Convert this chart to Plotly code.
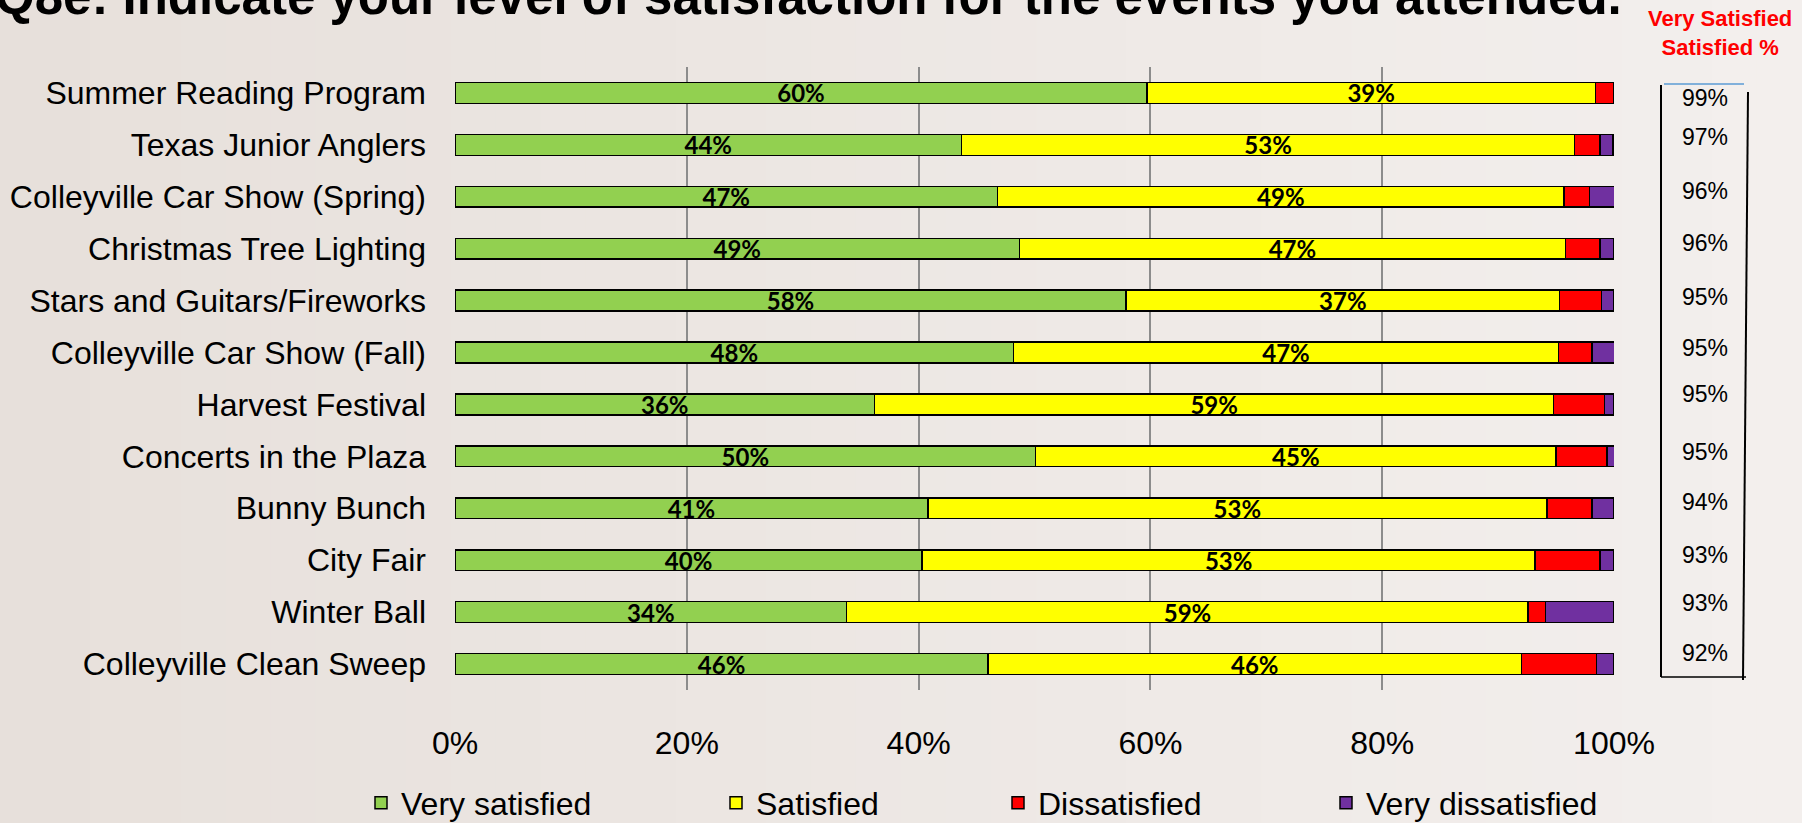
import plotly.graph_objects as go

# ---------------- data ----------------
categories = [
    "Summer Reading Program", "Texas Junior Anglers", "Colleyville Car Show (Spring)",
    "Christmas Tree Lighting", "Stars and Guitars/Fireworks", "Colleyville Car Show (Fall)",
    "Harvest Festival", "Concerts in the Plaza", "Bunny Bunch", "City Fair",
    "Winter Ball", "Colleyville Clean Sweep",
]
very_satisfied = [59.7, 43.7, 46.8, 48.7, 57.9, 48.2, 36.2, 50.1, 40.8, 40.3, 33.8, 46.0]
satisfied = [38.7, 52.9, 48.9, 47.1, 37.4, 47.0, 58.6, 44.9, 53.4, 52.9, 58.8, 46.0]
dissatisfied = [1.6, 2.2, 2.2, 3.0, 3.6, 2.9, 4.4, 4.4, 3.9, 5.6, 1.5, 6.5]
very_dissatisfied = [0.0, 1.1, 2.2, 1.2, 1.1, 2.0, 0.8, 0.8, 1.9, 1.2, 5.9, 1.5]
combined_pct = [99, 97, 96, 96, 95, 95, 95, 95, 94, 93, 93, 92]
x_tick_values = [0, 20, 40, 60, 80, 100]
x_tick_labels = ["0%", "20%", "40%", "60%", "80%", "100%"]

series_names = ["Very satisfied", "Satisfied", "Dissatisfied", "Very dissatisfied"]
series_colors = ["#92D050", "#FFFF00", "#FF0000", "#7030A0"]

# ---------------- geometry helpers (pixel -> paper) ----------------
W, H = 1802, 823
L, R, T, B = 455, 188, 67, 133
PW, PH = W - L - R, H - T - B


def px(x):
    return (x - L) / PW


def py(y):
    return (H - B - y) / PH


FONT = "Liberation Sans, Arial, sans-serif"

fig = go.Figure()

series_values = [very_satisfied, satisfied, dissatisfied, very_dissatisfied]
legend_ids = ["legend", "legend2", "legend3", "legend4"]
for i, (name, vals, col) in enumerate(zip(series_names, series_values, series_colors)):
    labelled = i < 2
    fig.add_trace(go.Bar(
        y=categories, x=vals, name=name, orientation="h",
        marker=dict(color=col, line=dict(color="#000000", width=1.5)),
        width=0.4,
        texttemplate="%{x:.0f}%" if labelled else None,
        textposition="inside" if labelled else "none",
        insidetextanchor="middle",
        constraintext="none",
        textangle=0,
        textfont=dict(family="Lato, Carlito, sans-serif", size=24, color="#000000", weight="bold"),
        legend=legend_ids[i],
        hoverinfo="skip",
    ))

# background gradient strips (decorative)
n_strips = 40
c0 = (231, 224, 219)
c1 = (243, 239, 237)
shapes = []
for k in range(n_strips):
    t = k / (n_strips - 1)
    c = tuple(int(round(a + (b - a) * t)) for a, b in zip(c0, c1))
    x0 = W * k / n_strips
    x1 = W * (k + 1) / n_strips + 1
    shapes.append(dict(type="rect", xref="paper", yref="paper",
                       x0=px(x0), x1=px(x1), y0=py(H), y1=py(0),
                       fillcolor="rgb(%d,%d,%d)" % c, line=dict(width=0), layer="below"))

# box around the combined % column
box_lines = [
    ((1661, 85), (1661, 677), "#000000", 2),
    ((1748, 92), (1743, 680), "#000000", 2),
    ((1661, 677), (1746, 677), "#000000", 1.5),
    ((1664, 84), (1744, 84), "#5B9BD5", 1.5),
]
for (xa, ya), (xb, yb), col, w in box_lines:
    shapes.append(dict(type="line", xref="paper", yref="paper",
                       x0=px(xa), y0=py(ya), x1=px(xb), y1=py(yb),
                       line=dict(color=col, width=w)))

annotations = [
    dict(text="<b>Q8e: Indicate your level of satisfaction for the events you attended.</b>",
         xref="paper", yref="paper", x=px(-7), y=py(-3.5), xanchor="left", yanchor="middle",
         showarrow=False, font=dict(family=FONT, size=51, color="#000000")),
    dict(text="<b>Very Satisfied<br>Satisfied %</b>",
         xref="paper", yref="paper", x=px(1720), y=py(33), xanchor="center", yanchor="middle",
         showarrow=False, font=dict(family=FONT, size=22, color="#FF0000")),
]
# nudges so the column text sits as in the source slide
row_nudge = [-5, 8, 6, 6, 4, 5, 10, 4, 6, 5, 9, 11]
for cat, v, nud in zip(categories, combined_pct, row_nudge):
    annotations.append(dict(text=f"{v}%", xref="paper", yref="y", x=px(1705), y=cat,
                            xanchor="center", yanchor="middle", yshift=nud, showarrow=False,
                            font=dict(family=FONT, size=23, color="#000000")))

legend_starts = [361, 716, 998, 1326]
layout_legends = {}
for lid, lx in zip(legend_ids, legend_starts):
    layout_legends[lid] = dict(
        x=px(lx), y=py(803), xanchor="left", yanchor="middle", orientation="h",
        bgcolor="rgba(0,0,0,0)", borderwidth=0,
        font=dict(family=FONT, size=32, color="#000000"),
    )

fig.update_layout(
    width=W, height=H,
    margin=dict(l=L, r=R, t=T, b=B, pad=0, autoexpand=False),
    paper_bgcolor="#EDE7E3",
    plot_bgcolor="rgba(0,0,0,0)",
    barmode="stack",
    bargap=0.6,
    showlegend=True,
    shapes=shapes,
    annotations=annotations,
    xaxis=dict(range=[0, 100], tickvals=x_tick_values, ticktext=x_tick_labels,
               showgrid=True, gridcolor="#8C8C8C", gridwidth=1.5, zeroline=False,
               showline=False, ticks="", ticklabelstandoff=31,
               tickfont=dict(family=FONT, size=32, color="#000000"), fixedrange=True),
    yaxis=dict(autorange="reversed", showgrid=False, zeroline=False, showline=False,
               ticks="", ticklabelstandoff=28,
               tickfont=dict(family=FONT, size=32, color="#000000"), fixedrange=True),
    **layout_legends,
)

fig.write_html(
    "out.html",
    config={"displayModeBar": False},
    post_script="document.body.style.margin='0';document.body.style.overflow='hidden';",
)
